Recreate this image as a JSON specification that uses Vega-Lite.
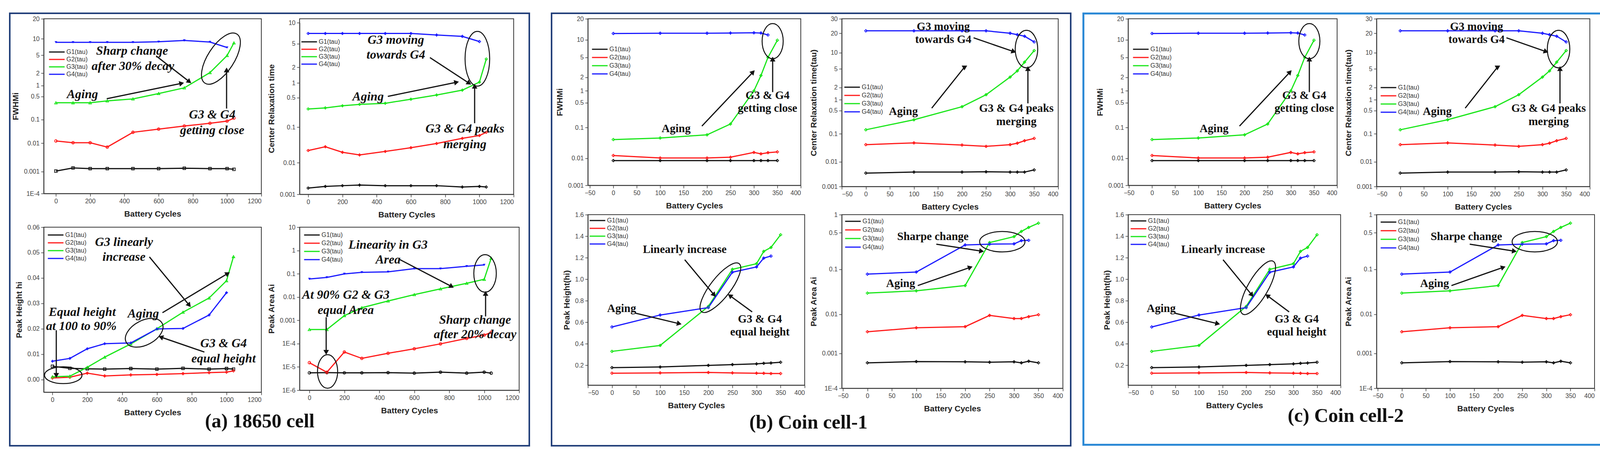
{
  "$schema": "https://vega.github.io/schema/vega-lite/v6.json",
  "background": "white",
  "padding": {"left": 22, "top": 31, "right": 0, "bottom": 0},
  "config": {
    "view": {"stroke": "#3a3a3a", "strokeWidth": 2},
    "font": "Liberation Sans",
    "axis": {"grid": false, "domainColor": "#3a3a3a", "domainWidth": 2, "tickColor": "#3a3a3a", "tickWidth": 1.5, "tickSize": 7,
      "labelFont": "Liberation Sans", "labelFontSize": 16, "labelColor": "#444", "labelPadding": 4,
      "titleFont": "Liberation Sans", "titleFontSize": 21, "titleFontWeight": "bold", "titleColor": "#222"},
    "axisX": {"titlePadding": 14},
    "axisY": {"titlePadding": 10},
    "legend": {"labelFont": "Liberation Sans", "labelFontSize": 16, "labelColor": "#333", "padding": 0, "rowPadding": 4, "clipHeight": 16,
      "symbolType": "stroke", "symbolStrokeWidth": 3, "symbolSize": 1600, "labelOffset": 3}
  },
  "datasets": {
    "blank": [{}],
    "a1": [
      {"series":"G1(tau)","cycle":0,"value":0.00103},{"series":"G1(tau)","cycle":100,"value":0.00133},{"series":"G1(tau)","cycle":200,"value":0.00126},{"series":"G1(tau)","cycle":300,"value":0.00126},{"series":"G1(tau)","cycle":450,"value":0.00126},{"series":"G1(tau)","cycle":600,"value":0.00126},{"series":"G1(tau)","cycle":750,"value":0.0013},{"series":"G1(tau)","cycle":900,"value":0.00126},{"series":"G1(tau)","cycle":1000,"value":0.00126},{"series":"G1(tau)","cycle":1040,"value":0.00119},
      {"series":"G2(tau)","cycle":0,"value":0.0125},{"series":"G2(tau)","cycle":100,"value":0.0105},{"series":"G2(tau)","cycle":200,"value":0.0105},{"series":"G2(tau)","cycle":300,"value":0.0073},{"series":"G2(tau)","cycle":450,"value":0.0288},{"series":"G2(tau)","cycle":600,"value":0.039},{"series":"G2(tau)","cycle":750,"value":0.053},{"series":"G2(tau)","cycle":900,"value":0.069},{"series":"G2(tau)","cycle":1000,"value":0.085},{"series":"G2(tau)","cycle":1040,"value":0.11},
      {"series":"G3(tau)","cycle":0,"value":0.32},{"series":"G3(tau)","cycle":100,"value":0.32},{"series":"G3(tau)","cycle":200,"value":0.32},{"series":"G3(tau)","cycle":300,"value":0.366},{"series":"G3(tau)","cycle":450,"value":0.42},{"series":"G3(tau)","cycle":600,"value":0.6},{"series":"G3(tau)","cycle":750,"value":0.86},{"series":"G3(tau)","cycle":900,"value":2.06},{"series":"G3(tau)","cycle":1000,"value":4.9},{"series":"G3(tau)","cycle":1040,"value":8.4},
      {"series":"G4(tau)","cycle":0,"value":8.6},{"series":"G4(tau)","cycle":100,"value":8.6},{"series":"G4(tau)","cycle":200,"value":8.6},{"series":"G4(tau)","cycle":300,"value":8.6},{"series":"G4(tau)","cycle":450,"value":8.6},{"series":"G4(tau)","cycle":600,"value":8.8},{"series":"G4(tau)","cycle":750,"value":9.3},{"series":"G4(tau)","cycle":900,"value":8.7},{"series":"G4(tau)","cycle":1000,"value":6.9}
    ],
    "a1_txt": [
      {"cycle":445,"value":6.0,"label":"Sharp change"},{"cycle":450,"value":2.89,"label":"after 30% decay"},{"cycle":155,"value":0.576,"label":"Aging"},{"cycle":913,"value":0.141,"label":"G3 & G4"},{"cycle":913,"value":0.0352,"label":"getting close"}
    ],
    "a1_arr": [
      {"cycle":776,"value":1.27,"cycle0":587,"value0":4.76,"heading":128},{"cycle":730,"value":1.12,"cycle0":297,"value0":0.424,"heading":78},{"cycle":997,"value":2.26,"cycle0":997,"value0":0.214,"heading":0}
    ],
    "a2": [
      {"series":"G1(tau)","cycle":0,"value":0.00158},{"series":"G1(tau)","cycle":100,"value":0.00178},{"series":"G1(tau)","cycle":200,"value":0.00188},{"series":"G1(tau)","cycle":300,"value":0.00197},{"series":"G1(tau)","cycle":450,"value":0.00188},{"series":"G1(tau)","cycle":600,"value":0.00188},{"series":"G1(tau)","cycle":750,"value":0.00188},{"series":"G1(tau)","cycle":900,"value":0.00171},{"series":"G1(tau)","cycle":1000,"value":0.00178},{"series":"G1(tau)","cycle":1040,"value":0.00171},
      {"series":"G2(tau)","cycle":0,"value":0.0221},{"series":"G2(tau)","cycle":100,"value":0.0282},{"series":"G2(tau)","cycle":200,"value":0.0197},{"series":"G2(tau)","cycle":300,"value":0.0166},{"series":"G2(tau)","cycle":450,"value":0.0208},{"series":"G2(tau)","cycle":600,"value":0.0265},{"series":"G2(tau)","cycle":750,"value":0.0348},{"series":"G2(tau)","cycle":900,"value":0.0485},{"series":"G2(tau)","cycle":1000,"value":0.0582},{"series":"G2(tau)","cycle":1040,"value":0.0716},
      {"series":"G3(tau)","cycle":0,"value":0.27},{"series":"G3(tau)","cycle":100,"value":0.286},{"series":"G3(tau)","cycle":200,"value":0.321},{"series":"G3(tau)","cycle":300,"value":0.347},{"series":"G3(tau)","cycle":450,"value":0.368},{"series":"G3(tau)","cycle":600,"value":0.46},{"series":"G3(tau)","cycle":750,"value":0.567},{"series":"G3(tau)","cycle":900,"value":0.714},{"series":"G3(tau)","cycle":1000,"value":1.04},{"series":"G3(tau)","cycle":1040,"value":2.76},
      {"series":"G4(tau)","cycle":0,"value":7.0},{"series":"G4(tau)","cycle":100,"value":7.0},{"series":"G4(tau)","cycle":200,"value":7.0},{"series":"G4(tau)","cycle":300,"value":7.0},{"series":"G4(tau)","cycle":450,"value":7.0},{"series":"G4(tau)","cycle":600,"value":7.0},{"series":"G4(tau)","cycle":750,"value":6.65},{"series":"G4(tau)","cycle":900,"value":6.36},{"series":"G4(tau)","cycle":1000,"value":5.36}
    ],
    "a2_txt": [
      {"cycle":512,"value":5.69,"label":"G3 moving"},{"cycle":512,"value":3.25,"label":"towards G4"},{"cycle":350,"value":0.531,"label":"Aging"},{"cycle":915,"value":0.0914,"label":"G3 & G4 peaks"},{"cycle":915,"value":0.0332,"label":"merging"}
    ],
    "a2_arr": [
      {"cycle":936,"value":1.01,"cycle0":711,"value0":2.92,"heading":123},{"cycle":862,"value":1.026,"cycle0":465,"value0":0.531,"heading":78},{"cycle":972,"value":0.831,"cycle0":972,"value0":0.124,"heading":0}
    ],
    "a3": [
      {"series":"G1(tau)","cycle":0,"value":0.0052},{"series":"G1(tau)","cycle":100,"value":0.0044},{"series":"G1(tau)","cycle":200,"value":0.0042},{"series":"G1(tau)","cycle":300,"value":0.0041},{"series":"G1(tau)","cycle":450,"value":0.0043},{"series":"G1(tau)","cycle":600,"value":0.0041},{"series":"G1(tau)","cycle":750,"value":0.0044},{"series":"G1(tau)","cycle":900,"value":0.0041},{"series":"G1(tau)","cycle":1000,"value":0.0043},{"series":"G1(tau)","cycle":1040,"value":0.0041},
      {"series":"G2(tau)","cycle":0,"value":0.0006},{"series":"G2(tau)","cycle":100,"value":0.0009},{"series":"G2(tau)","cycle":200,"value":0.0025},{"series":"G2(tau)","cycle":300,"value":0.0014},{"series":"G2(tau)","cycle":450,"value":0.0018},{"series":"G2(tau)","cycle":600,"value":0.002},{"series":"G2(tau)","cycle":750,"value":0.0023},{"series":"G2(tau)","cycle":900,"value":0.0027},{"series":"G2(tau)","cycle":1000,"value":0.0029},{"series":"G2(tau)","cycle":1040,"value":0.0034},
      {"series":"G3(tau)","cycle":0,"value":0.0011},{"series":"G3(tau)","cycle":100,"value":0.0013},{"series":"G3(tau)","cycle":200,"value":0.0048},{"series":"G3(tau)","cycle":300,"value":0.0088},{"series":"G3(tau)","cycle":450,"value":0.014},{"series":"G3(tau)","cycle":600,"value":0.02},{"series":"G3(tau)","cycle":750,"value":0.0265},{"series":"G3(tau)","cycle":900,"value":0.0321},{"series":"G3(tau)","cycle":1000,"value":0.0389},{"series":"G3(tau)","cycle":1040,"value":0.0484},
      {"series":"G4(tau)","cycle":0,"value":0.0072},{"series":"G4(tau)","cycle":100,"value":0.0083},{"series":"G4(tau)","cycle":200,"value":0.0121},{"series":"G4(tau)","cycle":300,"value":0.0141},{"series":"G4(tau)","cycle":450,"value":0.0144},{"series":"G4(tau)","cycle":600,"value":0.0199},{"series":"G4(tau)","cycle":750,"value":0.0201},{"series":"G4(tau)","cycle":900,"value":0.0254},{"series":"G4(tau)","cycle":1000,"value":0.0342}
    ],
    "a3_txt": [
      {"cycle":411,"value":0.0542,"label":"G3 linearly"},{"cycle":411,"value":0.0483,"label":"increase"},{"cycle":171,"value":0.0266,"label":"Equal height"},{"cycle":166,"value":0.0211,"label":"at 100 to 90%"},{"cycle":522,"value":0.026,"label":"Aging"},{"cycle":983,"value":0.0142,"label":"G3 & G4"},{"cycle":983,"value":0.0082,"label":"equal height"}
    ],
    "a3_arr": [
      {"cycle":22,"value":0.0019,"cycle0":22,"value0":0.0194,"heading":180},{"cycle":783,"value":0.0295,"cycle0":557,"value0":0.0483,"heading":141},{"cycle":1003,"value":0.0416,"cycle0":632,"value0":0.0263,"heading":59},{"cycle":627,"value":0.0166,"cycle0":873,"value0":0.0108,"heading":289}
    ],
    "a4": [
      {"series":"G1(tau)","cycle":0,"value":0.0000056},{"series":"G1(tau)","cycle":100,"value":0.0000057},{"series":"G1(tau)","cycle":200,"value":0.0000056},{"series":"G1(tau)","cycle":300,"value":0.0000056},{"series":"G1(tau)","cycle":450,"value":0.0000057},{"series":"G1(tau)","cycle":600,"value":0.0000054},{"series":"G1(tau)","cycle":750,"value":0.000006},{"series":"G1(tau)","cycle":900,"value":0.0000054},{"series":"G1(tau)","cycle":1000,"value":0.000006},{"series":"G1(tau)","cycle":1040,"value":0.0000054},
      {"series":"G2(tau)","cycle":0,"value":0.0000152},{"series":"G2(tau)","cycle":100,"value":0.0000059},{"series":"G2(tau)","cycle":200,"value":0.0000437},{"series":"G2(tau)","cycle":300,"value":0.0000233},{"series":"G2(tau)","cycle":450,"value":0.0000385},{"series":"G2(tau)","cycle":600,"value":0.00006},{"series":"G2(tau)","cycle":750,"value":0.000098},{"series":"G2(tau)","cycle":900,"value":0.000167},{"series":"G2(tau)","cycle":1000,"value":0.000232},{"series":"G2(tau)","cycle":1040,"value":0.000304},
      {"series":"G3(tau)","cycle":0,"value":0.000403},{"series":"G3(tau)","cycle":100,"value":0.000403},{"series":"G3(tau)","cycle":200,"value":0.00159},{"series":"G3(tau)","cycle":300,"value":0.00349},{"series":"G3(tau)","cycle":450,"value":0.00677},{"series":"G3(tau)","cycle":600,"value":0.0127},{"series":"G3(tau)","cycle":750,"value":0.0225},{"series":"G3(tau)","cycle":900,"value":0.039},{"series":"G3(tau)","cycle":1000,"value":0.0578},{"series":"G3(tau)","cycle":1040,"value":0.462},
      {"series":"G4(tau)","cycle":0,"value":0.0597},{"series":"G4(tau)","cycle":100,"value":0.0698},{"series":"G4(tau)","cycle":200,"value":0.0988},{"series":"G4(tau)","cycle":300,"value":0.1156},{"series":"G4(tau)","cycle":450,"value":0.121},{"series":"G4(tau)","cycle":600,"value":0.166},{"series":"G4(tau)","cycle":750,"value":0.166},{"series":"G4(tau)","cycle":900,"value":0.21},{"series":"G4(tau)","cycle":1000,"value":0.239}
    ],
    "a4_txt": [
      {"cycle":450,"value":1.77,"label":"Linearity in G3"},{"cycle":450,"value":0.408,"label":"Area"},{"cycle":208,"value":0.0123,"label":"At 90% G2 & G3"},{"cycle":208,"value":0.00276,"label":"equal Area"},{"cycle":948,"value":0.00107,"label":"Sharp change"},{"cycle":948,"value":0.000248,"label":"after 20% decay"}
    ],
    "a4_arr": [
      {"cycle":810,"value":0.0294,"cycle0":517,"value0":0.408,"heading":118},{"cycle":96,"value":0.0000458,"cycle0":96,"value0":0.00136,"heading":180},{"cycle":1008,"value":0.0133,"cycle0":1008,"value0":0.00147,"heading":0}
    ],
    "b1": [
      {"series":"G1(tau)","cycle":0,"value":0.0082},{"series":"G1(tau)","cycle":100,"value":0.0082},{"series":"G1(tau)","cycle":200,"value":0.0082},{"series":"G1(tau)","cycle":250,"value":0.0082},{"series":"G1(tau)","cycle":300,"value":0.0082},{"series":"G1(tau)","cycle":315,"value":0.0082},{"series":"G1(tau)","cycle":330,"value":0.0082},{"series":"G1(tau)","cycle":350,"value":0.0082},
      {"series":"G2(tau)","cycle":0,"value":0.0123},{"series":"G2(tau)","cycle":100,"value":0.0102},{"series":"G2(tau)","cycle":200,"value":0.0102},{"series":"G2(tau)","cycle":250,"value":0.0108},{"series":"G2(tau)","cycle":300,"value":0.0155},{"series":"G2(tau)","cycle":315,"value":0.0139},{"series":"G2(tau)","cycle":330,"value":0.0152},{"series":"G2(tau)","cycle":350,"value":0.0161},
      {"series":"G3(tau)","cycle":0,"value":0.0406},{"series":"G3(tau)","cycle":100,"value":0.0457},{"series":"G3(tau)","cycle":200,"value":0.058},{"series":"G3(tau)","cycle":250,"value":0.126},{"series":"G3(tau)","cycle":300,"value":1.0},{"series":"G3(tau)","cycle":315,"value":2.18},{"series":"G3(tau)","cycle":330,"value":5.0},{"series":"G3(tau)","cycle":350,"value":9.8},
      {"series":"G4(tau)","cycle":0,"value":12.3},{"series":"G4(tau)","cycle":100,"value":12.4},{"series":"G4(tau)","cycle":200,"value":12.4},{"series":"G4(tau)","cycle":250,"value":12.5},{"series":"G4(tau)","cycle":300,"value":12.6},{"series":"G4(tau)","cycle":315,"value":12.5},{"series":"G4(tau)","cycle":330,"value":11.7}
    ],
    "b1_txt": [
      {"cycle":134,"value":0.0917,"label":"Aging"},{"cycle":329,"value":0.763,"label":"G3 & G4"},{"cycle":329,"value":0.344,"label":"getting close"}
    ],
    "b1_arr": [
      {"cycle":297,"value":2.49,"cycle0":189,"value0":0.11,"heading":43},{"cycle":340,"value":4.47,"cycle0":340,"value0":0.927,"heading":0}
    ],
    "b2": [
      {"series":"G1(tau)","cycle":0,"value":0.00347},{"series":"G1(tau)","cycle":100,"value":0.00381},{"series":"G1(tau)","cycle":200,"value":0.00381},{"series":"G1(tau)","cycle":250,"value":0.00392},{"series":"G1(tau)","cycle":300,"value":0.00381},{"series":"G1(tau)","cycle":315,"value":0.00381},{"series":"G1(tau)","cycle":330,"value":0.00381},{"series":"G1(tau)","cycle":350,"value":0.00466},
      {"series":"G2(tau)","cycle":0,"value":0.0408},{"series":"G2(tau)","cycle":100,"value":0.0472},{"series":"G2(tau)","cycle":200,"value":0.0394},{"series":"G2(tau)","cycle":250,"value":0.0354},{"series":"G2(tau)","cycle":300,"value":0.0408},{"series":"G2(tau)","cycle":315,"value":0.046},{"series":"G2(tau)","cycle":330,"value":0.0564},{"series":"G2(tau)","cycle":350,"value":0.0683},
      {"series":"G3(tau)","cycle":0,"value":0.132},{"series":"G3(tau)","cycle":100,"value":0.265},{"series":"G3(tau)","cycle":200,"value":0.642},{"series":"G3(tau)","cycle":250,"value":1.33},{"series":"G3(tau)","cycle":300,"value":3.35},{"series":"G3(tau)","cycle":315,"value":4.55},{"series":"G3(tau)","cycle":330,"value":6.69},{"series":"G3(tau)","cycle":350,"value":10.8},
      {"series":"G4(tau)","cycle":0,"value":21.4},{"series":"G4(tau)","cycle":100,"value":21.4},{"series":"G4(tau)","cycle":200,"value":21.4},{"series":"G4(tau)","cycle":250,"value":21.4},{"series":"G4(tau)","cycle":300,"value":20.0},{"series":"G4(tau)","cycle":315,"value":19.0},{"series":"G4(tau)","cycle":330,"value":18.0},{"series":"G4(tau)","cycle":350,"value":14.7}
    ],
    "b2_txt": [
      {"cycle":161,"value":24.2,"label":"G3 moving"},{"cycle":161,"value":16.1,"label":"towards G4"},{"cycle":78,"value":0.475,"label":"Aging"},{"cycle":313,"value":0.585,"label":"G3 & G4 peaks"},{"cycle":313,"value":0.235,"label":"merging"}
    ],
    "b2_arr": [
      {"cycle":306,"value":10.5,"cycle0":224,"value0":17.0,"heading":109},{"cycle":205,"value":5.39,"cycle0":137,"value0":0.585,"heading":60},{"cycle":337,"value":4.9,"cycle0":337,"value0":0.794,"heading":0}
    ],
    "b3": [
      {"series":"G1(tau)","cycle":0,"value":0.178},{"series":"G1(tau)","cycle":100,"value":0.184},{"series":"G1(tau)","cycle":200,"value":0.199},{"series":"G1(tau)","cycle":250,"value":0.206},{"series":"G1(tau)","cycle":300,"value":0.213},{"series":"G1(tau)","cycle":315,"value":0.218},{"series":"G1(tau)","cycle":330,"value":0.221},{"series":"G1(tau)","cycle":350,"value":0.228},
      {"series":"G2(tau)","cycle":0,"value":0.126},{"series":"G2(tau)","cycle":100,"value":0.129},{"series":"G2(tau)","cycle":200,"value":0.133},{"series":"G2(tau)","cycle":250,"value":0.129},{"series":"G2(tau)","cycle":300,"value":0.126},{"series":"G2(tau)","cycle":315,"value":0.125},{"series":"G2(tau)","cycle":330,"value":0.123},{"series":"G2(tau)","cycle":350,"value":0.123},
      {"series":"G3(tau)","cycle":0,"value":0.329},{"series":"G3(tau)","cycle":100,"value":0.384},{"series":"G3(tau)","cycle":200,"value":0.747},{"series":"G3(tau)","cycle":250,"value":1.092},{"series":"G3(tau)","cycle":300,"value":1.144},{"series":"G3(tau)","cycle":315,"value":1.259},{"series":"G3(tau)","cycle":330,"value":1.295},{"series":"G3(tau)","cycle":350,"value":1.413},
      {"series":"G4(tau)","cycle":0,"value":0.556},{"series":"G4(tau)","cycle":100,"value":0.667},{"series":"G4(tau)","cycle":200,"value":0.736},{"series":"G4(tau)","cycle":250,"value":1.065},{"series":"G4(tau)","cycle":300,"value":1.114},{"series":"G4(tau)","cycle":315,"value":1.196},{"series":"G4(tau)","cycle":330,"value":1.215}
    ],
    "b3_txt": [
      {"cycle":151,"value":1.277,"label":"Linearly increase"},{"cycle":20,"value":0.726,"label":"Aging"},{"cycle":307,"value":0.628,"label":"G3 & G4"},{"cycle":307,"value":0.511,"label":"equal height"}
    ],
    "b3_arr": [
      {"cycle":211,"value":0.859,"cycle0":151,"value0":1.181,"heading":140},{"cycle":138,"value":0.588,"cycle0":49,"value0":0.684,"heading":104},{"cycle":246,"value":0.843,"cycle0":291,"value0":0.696,"heading":306}
    ],
    "b4": [
      {"series":"G1(tau)","cycle":0,"value":0.000533},{"series":"G1(tau)","cycle":100,"value":0.00058},{"series":"G1(tau)","cycle":200,"value":0.000571},{"series":"G1(tau)","cycle":250,"value":0.000556},{"series":"G1(tau)","cycle":300,"value":0.000571},{"series":"G1(tau)","cycle":315,"value":0.000533},{"series":"G1(tau)","cycle":330,"value":0.000593},{"series":"G1(tau)","cycle":350,"value":0.000533},
      {"series":"G2(tau)","cycle":0,"value":0.00356},{"series":"G2(tau)","cycle":100,"value":0.0045},{"series":"G2(tau)","cycle":200,"value":0.00481},{"series":"G2(tau)","cycle":250,"value":0.00936},{"series":"G2(tau)","cycle":300,"value":0.00776},{"series":"G2(tau)","cycle":315,"value":0.00776},{"series":"G2(tau)","cycle":330,"value":0.00869},{"series":"G2(tau)","cycle":350,"value":0.00973},
      {"series":"G3(tau)","cycle":0,"value":0.0296},{"series":"G3(tau)","cycle":100,"value":0.0332},{"series":"G3(tau)","cycle":200,"value":0.0435},{"series":"G3(tau)","cycle":250,"value":0.324},{"series":"G3(tau)","cycle":300,"value":0.42},{"series":"G3(tau)","cycle":315,"value":0.525},{"series":"G3(tau)","cycle":330,"value":0.612},{"series":"G3(tau)","cycle":350,"value":0.722},
      {"series":"G4(tau)","cycle":0,"value":0.0783},{"series":"G4(tau)","cycle":100,"value":0.0871},{"series":"G4(tau)","cycle":200,"value":0.292},{"series":"G4(tau)","cycle":250,"value":0.302},{"series":"G4(tau)","cycle":300,"value":0.306},{"series":"G4(tau)","cycle":315,"value":0.352},{"series":"G4(tau)","cycle":330,"value":0.358}
    ],
    "b4_txt": [
      {"cycle":134,"value":0.42,"label":"Sharpe change"},{"cycle":68,"value":0.0483,"label":"Aging"}
    ],
    "b4_arr": [
      {"cycle":232,"value":0.223,"cycle0":141,"value0":0.302,"heading":99},{"cycle":209,"value":0.108,"cycle0":103,"value0":0.0435,"heading":71}
    ]
  },
  "spacing": 0,
  "resolve": {"scale": {"color": "independent"}, "legend": {"color": "independent"}},
  "hconcat": [
    {
      "columns": 7, "spacing": 0, "bounds": "flush", "align": "each",
      "resolve": {"scale": {"color": "independent"}, "legend": {"color": "independent"}},
      "concat": [
        {"width": 4, "height": 4, "data": {"name": "blank"}, "mark": {"type": "point", "opacity": 0}, "view": {"fill": "#23407a", "stroke": null}},
        {"width": 85, "height": 4, "data": {"name": "blank"}, "mark": {"type": "point", "opacity": 0}, "view": {"fill": "#23407a", "stroke": null}},
        {"width": 557, "height": 4, "data": {"name": "blank"}, "mark": {"type": "point", "opacity": 0}, "view": {"fill": "#23407a", "stroke": null}},
        {"width": 98, "height": 4, "data": {"name": "blank"}, "mark": {"type": "point", "opacity": 0}, "view": {"fill": "#23407a", "stroke": null}},
        {"width": 562, "height": 4, "data": {"name": "blank"}, "mark": {"type": "point", "opacity": 0}, "view": {"fill": "#23407a", "stroke": null}},
        {"width": 24, "height": 4, "data": {"name": "blank"}, "mark": {"type": "point", "opacity": 0}, "view": {"fill": "#23407a", "stroke": null}},
        {"width": 4, "height": 4, "data": {"name": "blank"}, "mark": {"type": "point", "opacity": 0}, "view": {"fill": "#23407a", "stroke": null}},

        {"width": 4, "height": 12, "data": {"name": "blank"}, "mark": {"type": "point", "opacity": 0}, "view": {"fill": "#23407a", "stroke": null}},
        {"width": 85, "height": 12, "data": {"name": "blank"}, "mark": {"type": "point", "opacity": 0}, "view": {"stroke": null}},
        {"width": 557, "height": 12, "data": {"name": "blank"}, "mark": {"type": "point", "opacity": 0}, "view": {"stroke": null}},
        {"width": 98, "height": 12, "data": {"name": "blank"}, "mark": {"type": "point", "opacity": 0}, "view": {"stroke": null}},
        {"width": 562, "height": 12, "data": {"name": "blank"}, "mark": {"type": "point", "opacity": 0}, "view": {"stroke": null}},
        {"width": 24, "height": 12, "data": {"name": "blank"}, "mark": {"type": "point", "opacity": 0}, "view": {"stroke": null}},
        {"width": 4, "height": 12, "data": {"name": "blank"}, "mark": {"type": "point", "opacity": 0}, "view": {"fill": "#23407a", "stroke": null}},

        {"width": 4, "height": 449, "data": {"name": "blank"}, "mark": {"type": "point", "opacity": 0}, "view": {"fill": "#23407a", "stroke": null}},
        {"width": 85, "height": 10, "data": {"name": "blank"}, "mark": {"type": "point", "opacity": 0}, "view": {"stroke": null}},
        {
          "width": 557, "height": 447,
          "encoding": {
            "x": {"field": "cycle", "type": "quantitative", "title": "Battery Cycles", "scale": {"domain": [-71, 1200], "nice": false, "zero": false}, "axis": {"values": [0, 200, 400, 600, 800, 1000, 1200], "format": "d"}},
            "y": {"field": "value", "type": "quantitative", "title": "FWHMi", "scale": {"type": "log", "domain": [0.0001, 0.001, 0.01, 0.1, 0.5, 1, 2, 5, 10, 20], "range": [447, 390.5, 318.3, 257.5, 198.5, 170.6, 139.1, 93, 51.1, 0], "nice": false}, "axis": {"values": [0.0001, 0.001, 0.01, 0.1, 0.5, 1, 2, 5, 10, 20], "labelExpr": "datum.value < 0.0005 ? '1E-' + round(-log(datum.value) / LN10) : format(datum.value, '~g')"}}
          },
          "layer": [
            {"data": {"name": "a1"}, "mark": {"type": "line", "strokeWidth": 3}, "encoding": {"color": {"field": "series", "type": "nominal", "scale": {"domain": ["G1(tau)", "G2(tau)", "G3(tau)", "G4(tau)"], "range": ["#111111", "#ff1a1a", "#19e619", "#1a1aff"]}, "legend": {"title": null, "orient": "none", "legendX": 12, "legendY": 77, "rowPadding": 3, "symbolType": "stroke"}}}},
            {"data": {"name": "a1"}, "transform": [{"filter": "datum.series == 'G1(tau)'"}], "mark": {"type": "point", "shape": "square", "filled": false, "size": 45, "strokeWidth": 1.8, "opacity": 1}, "encoding": {"color": {"field": "series", "type": "nominal"}}},
            {"data": {"name": "a1"}, "transform": [{"filter": "datum.series == 'G2(tau)'"}], "mark": {"type": "point", "shape": "circle", "filled": false, "size": 45, "strokeWidth": 1.8, "opacity": 1}, "encoding": {"color": {"field": "series", "type": "nominal"}}},
            {"data": {"name": "a1"}, "transform": [{"filter": "datum.series == 'G3(tau)'"}], "mark": {"type": "point", "shape": "triangle-up", "filled": false, "size": 45, "strokeWidth": 1.8, "opacity": 1}, "encoding": {"color": {"field": "series", "type": "nominal"}}},
            {"data": {"name": "a1"}, "transform": [{"filter": "datum.series == 'G4(tau)'"}], "mark": {"type": "point", "shape": "triangle-down", "filled": true, "size": 45, "opacity": 1}, "encoding": {"color": {"field": "series", "type": "nominal"}}},
            {"data": {"name": "a1_txt"}, "mark": {"type": "text", "font": "Liberation Serif", "fontSize": 32, "fontWeight": "bold", "fontStyle": "italic", "color": "#111"}, "encoding": {"text": {"field": "label", "type": "nominal"}}},
            {"data": {"name": "a1_arr"}, "mark": {"type": "rule", "strokeWidth": 3, "color": "#111"}, "encoding": {"x2": {"field": "cycle0"}, "y2": {"field": "value0"}}},
            {"data": {"name": "a1_arr"}, "mark": {"type": "point", "shape": "triangle", "filled": true, "size": 200, "color": "#111", "opacity": 1}, "encoding": {"angle": {"field": "heading", "type": "quantitative", "scale": null}}},
            {"data": {"values": [{"cycle": 964, "value": 4.19}]}, "mark": {"type": "point", "shape": "M0,-1C0.25,-1,0.45,-0.55,0.45,0C0.45,0.55,0.25,1,0,1C-0.25,1,-0.45,0.55,-0.45,0C-0.45,-0.55,-0.25,-1,0,-1Z", "size": 22500, "angle": 33, "filled": false, "strokeWidth": 2.5, "color": "#111", "opacity": 1}}
          ]
        },
        {"width": 98, "height": 10, "data": {"name": "blank"}, "mark": {"type": "point", "opacity": 0}, "view": {"stroke": null}},
        {
          "width": 548, "height": 449,
          "encoding": {
            "x": {"field": "cycle", "type": "quantitative", "title": "Battery Cycles", "scale": {"domain": [-50, 1200], "nice": false, "zero": false}, "axis": {"values": [0, 200, 400, 600, 800, 1000, 1200], "format": "d"}},
            "y": {"field": "value", "type": "quantitative", "title": "Center Relaxation time", "scale": {"type": "log", "domain": [0.001, 0.01, 0.1, 0.5, 1, 2, 5, 10], "range": [449, 368.3, 277.2, 201.8, 164.3, 124.3, 63.6, 10], "nice": false}, "axis": {"values": [0.001, 0.01, 0.1, 0.5, 1, 2, 5, 10], "labelExpr": "datum.value < 0.0005 ? '1E-' + round(-log(datum.value) / LN10) : format(datum.value, '~g')"}}
          },
          "layer": [
            {"data": {"name": "a2"}, "mark": {"type": "line", "strokeWidth": 3}, "encoding": {"color": {"field": "series", "type": "nominal", "scale": {"domain": ["G1(tau)", "G2(tau)", "G3(tau)", "G4(tau)"], "range": ["#111111", "#ff1a1a", "#19e619", "#1a1aff"]}, "legend": {"title": null, "orient": "none", "legendX": 3, "legendY": 51, "rowPadding": 3, "symbolType": "stroke"}}}},
            {"data": {"name": "a2"}, "mark": {"type": "point", "shape": "diamond", "filled": false, "size": 40, "strokeWidth": 1.8, "opacity": 1}, "encoding": {"color": {"field": "series", "type": "nominal"}}},
            {"data": {"name": "a2_txt"}, "mark": {"type": "text", "font": "Liberation Serif", "fontSize": 32, "fontWeight": "bold", "fontStyle": "italic", "color": "#111"}, "encoding": {"text": {"field": "label", "type": "nominal"}}},
            {"data": {"name": "a2_arr"}, "mark": {"type": "rule", "strokeWidth": 3, "color": "#111"}, "encoding": {"x2": {"field": "cycle0"}, "y2": {"field": "value0"}}},
            {"data": {"name": "a2_arr"}, "mark": {"type": "point", "shape": "triangle", "filled": true, "size": 200, "color": "#111", "opacity": 1}, "encoding": {"angle": {"field": "heading", "type": "quantitative", "scale": null}}},
            {"data": {"values": [{"cycle": 988, "value": 2.79}]}, "mark": {"type": "point", "shape": "M0,-1C0.25,-1,0.45,-0.55,0.45,0C0.45,0.55,0.25,1,0,1C-0.25,1,-0.45,0.55,-0.45,0C-0.45,-0.55,-0.25,-1,0,-1Z", "size": 19600, "angle": 0, "filled": false, "strokeWidth": 2.5, "color": "#111", "opacity": 1}}
          ]
        },
        {"width": 24, "height": 10, "data": {"name": "blank"}, "mark": {"type": "point", "opacity": 0}, "view": {"stroke": null}},
        {"width": 4, "height": 449, "data": {"name": "blank"}, "mark": {"type": "point", "opacity": 0}, "view": {"fill": "#23407a", "stroke": null}},

        {"width": 4, "height": 84, "data": {"name": "blank"}, "mark": {"type": "point", "opacity": 0}, "view": {"fill": "#23407a", "stroke": null}},
        {"width": 85, "height": 84, "data": {"name": "blank"}, "mark": {"type": "point", "opacity": 0}, "view": {"stroke": null}},
        {"width": 557, "height": 84, "data": {"name": "blank"}, "mark": {"type": "point", "opacity": 0}, "view": {"stroke": null}},
        {"width": 98, "height": 84, "data": {"name": "blank"}, "mark": {"type": "point", "opacity": 0}, "view": {"stroke": null}},
        {"width": 562, "height": 84, "data": {"name": "blank"}, "mark": {"type": "point", "opacity": 0}, "view": {"stroke": null}},
        {"width": 24, "height": 84, "data": {"name": "blank"}, "mark": {"type": "point", "opacity": 0}, "view": {"stroke": null}},
        {"width": 4, "height": 84, "data": {"name": "blank"}, "mark": {"type": "point", "opacity": 0}, "view": {"fill": "#23407a", "stroke": null}},

        {"width": 4, "height": 422, "data": {"name": "blank"}, "mark": {"type": "point", "opacity": 0}, "view": {"fill": "#23407a", "stroke": null}},
        {"width": 85, "height": 10, "data": {"name": "blank"}, "mark": {"type": "point", "opacity": 0}, "view": {"stroke": null}},
        {
          "width": 557, "height": 422,
          "encoding": {
            "x": {"field": "cycle", "type": "quantitative", "title": "Battery Cycles", "scale": {"domain": [-50, 1200], "nice": false, "zero": false}, "axis": {"values": [0, 200, 400, 600, 800, 1000, 1200], "format": "d"}},
            "y": {"field": "value", "type": "quantitative", "title": "Peak Height hi", "scale": {"domain": [-0.005, 0.06], "nice": false, "zero": false}, "axis": {"values": [0, 0.01, 0.02, 0.03, 0.04, 0.05, 0.06], "format": ".2f"}}
          },
          "layer": [
            {"data": {"name": "a3"}, "mark": {"type": "line", "strokeWidth": 3}, "encoding": {"color": {"field": "series", "type": "nominal", "scale": {"domain": ["G1(tau)", "G2(tau)", "G3(tau)", "G4(tau)"], "range": ["#111111", "#ff1a1a", "#19e619", "#1a1aff"]}, "legend": {"title": null, "orient": "none", "legendX": 9, "legendY": 12, "rowPadding": 4, "symbolType": "stroke"}}}},
            {"data": {"name": "a3"}, "transform": [{"filter": "datum.series == 'G1(tau)'"}], "mark": {"type": "point", "shape": "square", "filled": false, "size": 45, "strokeWidth": 1.8, "opacity": 1}, "encoding": {"color": {"field": "series", "type": "nominal"}}},
            {"data": {"name": "a3"}, "transform": [{"filter": "datum.series == 'G2(tau)'"}], "mark": {"type": "point", "shape": "diamond", "filled": false, "size": 45, "strokeWidth": 1.8, "opacity": 1}, "encoding": {"color": {"field": "series", "type": "nominal"}}},
            {"data": {"name": "a3"}, "transform": [{"filter": "datum.series == 'G3(tau)'"}], "mark": {"type": "point", "shape": "triangle-up", "filled": false, "size": 45, "strokeWidth": 1.8, "opacity": 1}, "encoding": {"color": {"field": "series", "type": "nominal"}}},
            {"data": {"name": "a3"}, "transform": [{"filter": "datum.series == 'G4(tau)'"}], "mark": {"type": "point", "shape": "cross", "filled": true, "size": 50, "opacity": 1}, "encoding": {"color": {"field": "series", "type": "nominal"}}},
            {"data": {"name": "a3_txt"}, "mark": {"type": "text", "font": "Liberation Serif", "fontSize": 32, "fontWeight": "bold", "fontStyle": "italic", "color": "#111"}, "encoding": {"text": {"field": "label", "type": "nominal"}}},
            {"data": {"name": "a3_arr"}, "mark": {"type": "rule", "strokeWidth": 3, "color": "#111"}, "encoding": {"x2": {"field": "cycle0"}, "y2": {"field": "value0"}}},
            {"data": {"name": "a3_arr"}, "mark": {"type": "point", "shape": "triangle", "filled": true, "size": 200, "color": "#111", "opacity": 1}, "encoding": {"angle": {"field": "heading", "type": "quantitative", "scale": null}}},
            {"data": {"values": [{"cycle": 62, "value": 0.0017}]}, "mark": {"type": "point", "shape": "M0,-1C0.25,-1,0.45,-0.55,0.45,0C0.45,0.55,0.25,1,0,1C-0.25,1,-0.45,0.55,-0.45,0C-0.45,-0.55,-0.25,-1,0,-1Z", "size": 9216, "angle": 90, "filled": false, "strokeWidth": 2.5, "color": "#111", "opacity": 1}},
            {"data": {"values": [{"cycle": 527, "value": 0.0184}]}, "mark": {"type": "point", "shape": "M0,-1C0.33,-1,0.6,-0.55,0.6,0C0.6,0.55,0.33,1,0,1C-0.33,1,-0.6,0.55,-0.6,0C-0.6,-0.55,-0.33,-1,0,-1Z", "size": 10816, "angle": 62, "filled": false, "strokeWidth": 2.5, "color": "#111", "opacity": 1}}
          ]
        },
        {"width": 98, "height": 10, "data": {"name": "blank"}, "mark": {"type": "point", "opacity": 0}, "view": {"stroke": null}},
        {
          "width": 562, "height": 417,
          "encoding": {
            "x": {"field": "cycle", "type": "quantitative", "title": "Battery Cycles", "scale": {"domain": [-56, 1200], "nice": false, "zero": false}, "axis": {"values": [0, 200, 400, 600, 800, 1000, 1200], "format": "d"}},
            "y": {"field": "value", "type": "quantitative", "title": "Peak Area Ai", "scale": {"type": "log", "domain": [0.000001, 10], "nice": false}, "axis": {"values": [0.000001, 0.00001, 0.0001, 0.001, 0.01, 0.1, 1, 10], "labelExpr": "datum.value < 0.0005 ? '1E-' + round(-log(datum.value) / LN10) : format(datum.value, '~g')"}}
          },
          "layer": [
            {"data": {"name": "a4"}, "mark": {"type": "line", "strokeWidth": 3}, "encoding": {"color": {"field": "series", "type": "nominal", "scale": {"domain": ["G1(tau)", "G2(tau)", "G3(tau)", "G4(tau)"], "range": ["#111111", "#ff1a1a", "#19e619", "#1a1aff"]}, "legend": {"title": null, "orient": "none", "legendX": 10, "legendY": 12, "rowPadding": 5, "symbolType": "stroke"}}}},
            {"data": {"name": "a4"}, "transform": [{"filter": "datum.series == 'G1(tau)' || datum.series == 'G2(tau)'"}], "mark": {"type": "point", "shape": "circle", "filled": false, "size": 45, "strokeWidth": 1.8, "opacity": 1}, "encoding": {"color": {"field": "series", "type": "nominal"}}},
            {"data": {"name": "a4"}, "transform": [{"filter": "datum.series == 'G3(tau)'"}], "mark": {"type": "point", "shape": "triangle-up", "filled": false, "size": 45, "strokeWidth": 1.8, "opacity": 1}, "encoding": {"color": {"field": "series", "type": "nominal"}}},
            {"data": {"name": "a4"}, "transform": [{"filter": "datum.series == 'G4(tau)'"}], "mark": {"type": "point", "shape": "triangle-down", "filled": true, "size": 45, "opacity": 1}, "encoding": {"color": {"field": "series", "type": "nominal"}}},
            {"data": {"name": "a4_txt"}, "mark": {"type": "text", "font": "Liberation Serif", "fontSize": 32, "fontWeight": "bold", "fontStyle": "italic", "color": "#111"}, "encoding": {"text": {"field": "label", "type": "nominal"}}},
            {"data": {"name": "a4_arr"}, "mark": {"type": "rule", "strokeWidth": 3, "color": "#111"}, "encoding": {"x2": {"field": "cycle0"}, "y2": {"field": "value0"}}},
            {"data": {"name": "a4_arr"}, "mark": {"type": "point", "shape": "triangle", "filled": true, "size": 200, "color": "#111", "opacity": 1}, "encoding": {"angle": {"field": "heading", "type": "quantitative", "scale": null}}},
            {"data": {"values": [{"cycle": 104, "value": 0.0000064}]}, "mark": {"type": "point", "shape": "M0,-1C0.33,-1,0.6,-0.55,0.6,0C0.6,0.55,0.33,1,0,1C-0.33,1,-0.6,0.55,-0.6,0C-0.6,-0.55,-0.33,-1,0,-1Z", "size": 7396, "angle": 0, "filled": false, "strokeWidth": 2.5, "color": "#111", "opacity": 1}},
            {"data": {"values": [{"cycle": 1005, "value": 0.1035}]}, "mark": {"type": "point", "shape": "M0,-1C0.33,-1,0.6,-0.55,0.6,0C0.6,0.55,0.33,1,0,1C-0.33,1,-0.6,0.55,-0.6,0C-0.6,-0.55,-0.33,-1,0,-1Z", "size": 9216, "angle": 0, "filled": false, "strokeWidth": 2.5, "color": "#111", "opacity": 1}}
          ]
        },
        {"width": 24, "height": 10, "data": {"name": "blank"}, "mark": {"type": "point", "opacity": 0}, "view": {"stroke": null}},
        {"width": 4, "height": 422, "data": {"name": "blank"}, "mark": {"type": "point", "opacity": 0}, "view": {"fill": "#23407a", "stroke": null}},

        {"width": 4, "height": 135, "data": {"name": "blank"}, "mark": {"type": "point", "opacity": 0}, "view": {"fill": "#23407a", "stroke": null}},
        {"width": 85, "height": 135, "data": {"name": "blank"}, "mark": {"type": "point", "opacity": 0}, "view": {"stroke": null}},
        {"width": 557, "height": 135, "data": {"name": "blank"}, "mark": {"type": "point", "opacity": 0}, "view": {"stroke": null}},
        {"width": 98, "height": 135, "data": {"values": [{"label": "(a) 18650 cell"}]}, "mark": {"type": "text", "font": "Liberation Serif", "fontSize": 50, "fontWeight": "bold", "color": "#111", "dx": -53, "dy": 7}, "encoding": {"text": {"field": "label", "type": "nominal"}}, "view": {"stroke": null}},
        {"width": 562, "height": 135, "data": {"name": "blank"}, "mark": {"type": "point", "opacity": 0}, "view": {"stroke": null}},
        {"width": 24, "height": 135, "data": {"name": "blank"}, "mark": {"type": "point", "opacity": 0}, "view": {"stroke": null}},
        {"width": 4, "height": 135, "data": {"name": "blank"}, "mark": {"type": "point", "opacity": 0}, "view": {"fill": "#23407a", "stroke": null}},

        {"width": 4, "height": 4, "data": {"name": "blank"}, "mark": {"type": "point", "opacity": 0}, "view": {"fill": "#23407a", "stroke": null}},
        {"width": 85, "height": 4, "data": {"name": "blank"}, "mark": {"type": "point", "opacity": 0}, "view": {"fill": "#23407a", "stroke": null}},
        {"width": 557, "height": 4, "data": {"name": "blank"}, "mark": {"type": "point", "opacity": 0}, "view": {"fill": "#23407a", "stroke": null}},
        {"width": 98, "height": 4, "data": {"name": "blank"}, "mark": {"type": "point", "opacity": 0}, "view": {"fill": "#23407a", "stroke": null}},
        {"width": 562, "height": 4, "data": {"name": "blank"}, "mark": {"type": "point", "opacity": 0}, "view": {"fill": "#23407a", "stroke": null}},
        {"width": 24, "height": 4, "data": {"name": "blank"}, "mark": {"type": "point", "opacity": 0}, "view": {"fill": "#23407a", "stroke": null}},
        {"width": 4, "height": 4, "data": {"name": "blank"}, "mark": {"type": "point", "opacity": 0}, "view": {"fill": "#23407a", "stroke": null}}
      ]
    },
    {"width": 51, "height": 10, "data": {"name": "blank"}, "mark": {"type": "point", "opacity": 0}, "view": {"stroke": null}},
    {
      "columns": 7, "spacing": 0, "bounds": "flush", "align": "each",
      "resolve": {"scale": {"color": "independent"}, "legend": {"color": "independent"}},
      "concat": [
        {"width": 4, "height": 4, "data": {"name": "blank"}, "mark": {"type": "point", "opacity": 0}, "view": {"fill": "#23407a", "stroke": null}},
        {"width": 91, "height": 4, "data": {"name": "blank"}, "mark": {"type": "point", "opacity": 0}, "view": {"fill": "#23407a", "stroke": null}},
        {"width": 555, "height": 4, "data": {"name": "blank"}, "mark": {"type": "point", "opacity": 0}, "view": {"fill": "#23407a", "stroke": null}},
        {"width": 95, "height": 4, "data": {"name": "blank"}, "mark": {"type": "point", "opacity": 0}, "view": {"fill": "#23407a", "stroke": null}},
        {"width": 566, "height": 4, "data": {"name": "blank"}, "mark": {"type": "point", "opacity": 0}, "view": {"fill": "#23407a", "stroke": null}},
        {"width": 18, "height": 4, "data": {"name": "blank"}, "mark": {"type": "point", "opacity": 0}, "view": {"fill": "#23407a", "stroke": null}},
        {"width": 4, "height": 4, "data": {"name": "blank"}, "mark": {"type": "point", "opacity": 0}, "view": {"fill": "#23407a", "stroke": null}},

        {"width": 4, "height": 12, "data": {"name": "blank"}, "mark": {"type": "point", "opacity": 0}, "view": {"fill": "#23407a", "stroke": null}},
        {"width": 91, "height": 12, "data": {"name": "blank"}, "mark": {"type": "point", "opacity": 0}, "view": {"stroke": null}},
        {"width": 555, "height": 12, "data": {"name": "blank"}, "mark": {"type": "point", "opacity": 0}, "view": {"stroke": null}},
        {"width": 95, "height": 12, "data": {"name": "blank"}, "mark": {"type": "point", "opacity": 0}, "view": {"stroke": null}},
        {"width": 566, "height": 12, "data": {"name": "blank"}, "mark": {"type": "point", "opacity": 0}, "view": {"stroke": null}},
        {"width": 18, "height": 12, "data": {"name": "blank"}, "mark": {"type": "point", "opacity": 0}, "view": {"stroke": null}},
        {"width": 4, "height": 12, "data": {"name": "blank"}, "mark": {"type": "point", "opacity": 0}, "view": {"fill": "#23407a", "stroke": null}},

        {"width": 4, "height": 429, "data": {"name": "blank"}, "mark": {"type": "point", "opacity": 0}, "view": {"fill": "#23407a", "stroke": null}},
        {"width": 91, "height": 10, "data": {"name": "blank"}, "mark": {"type": "point", "opacity": 0}, "view": {"stroke": null}},
        {
          "width": 545, "height": 426,
          "encoding": {
            "x": {"field": "cycle", "type": "quantitative", "title": "Battery Cycles", "scale": {"domain": [-54.2, 400], "nice": false, "zero": false}, "axis": {"values": [-50, 0, 50, 100, 150, 200, 250, 300, 350, 400], "format": "d"}},
            "y": {"field": "value", "type": "quantitative", "title": "FWHMi", "scale": {"type": "log", "domain": [0.001, 0.01, 0.1, 0.5, 1, 2, 5, 10, 20], "range": [426, 356.7, 278.2, 214.6, 184.3, 149.9, 98.8, 53.65, 0], "nice": false}, "axis": {"values": [0.001, 0.01, 0.1, 0.5, 1, 2, 5, 10, 20], "labelExpr": "datum.value < 0.0005 ? '1E-' + round(-log(datum.value) / LN10) : format(datum.value, '~g')"}}
          },
          "layer": [
            {"data": {"name": "b1"}, "mark": {"type": "line", "strokeWidth": 3}, "encoding": {"color": {"field": "series", "type": "nominal", "scale": {"domain": ["G1(tau)", "G2(tau)", "G3(tau)", "G4(tau)"], "range": ["#111111", "#ff1a1a", "#19e619", "#1a1aff"]}, "legend": {"title": null, "orient": "none", "legendX": 9, "legendY": 70, "rowPadding": 5, "symbolType": "stroke"}}}},
            {"data": {"name": "b1"}, "mark": {"type": "point", "shape": "diamond", "filled": false, "size": 45, "strokeWidth": 1.8, "opacity": 1}, "encoding": {"color": {"field": "series", "type": "nominal"}}},
            {"data": {"name": "b1_txt"}, "mark": {"type": "text", "font": "Liberation Serif", "fontSize": 29, "fontWeight": "bold", "color": "#111"}, "encoding": {"text": {"field": "label", "type": "nominal"}}},
            {"data": {"name": "b1_arr"}, "mark": {"type": "rule", "strokeWidth": 3, "color": "#111"}, "encoding": {"x2": {"field": "cycle0"}, "y2": {"field": "value0"}}},
            {"data": {"name": "b1_arr"}, "mark": {"type": "point", "shape": "triangle", "filled": true, "size": 200, "color": "#111", "opacity": 1}, "encoding": {"angle": {"field": "heading", "type": "quantitative", "scale": null}}},
            {"data": {"values": [{"cycle": 340, "value": 9.45}]}, "mark": {"type": "point", "shape": "M0,-1C0.33,-1,0.6,-0.55,0.6,0C0.6,0.55,0.33,1,0,1C-0.33,1,-0.6,0.55,-0.6,0C-0.6,-0.55,-0.33,-1,0,-1Z", "size": 8100, "angle": 0, "filled": false, "strokeWidth": 2.5, "color": "#111", "opacity": 1}}
          ]
        },
        {"width": 95, "height": 10, "data": {"name": "blank"}, "mark": {"type": "point", "opacity": 0}, "view": {"stroke": null}},
        {
          "width": 554, "height": 429,
          "encoding": {
            "x": {"field": "cycle", "type": "quantitative", "title": "Battery Cycles", "scale": {"domain": [-50, 400], "nice": false, "zero": false}, "axis": {"values": [-50, 0, 50, 100, 150, 200, 250, 300, 350, 400], "format": "d"}},
            "y": {"field": "value", "type": "quantitative", "title": "Center Relaxation time(tau)", "scale": {"type": "log", "domain": [0.001, 0.01, 0.1, 0.5, 1, 2, 5, 10, 20, 30], "range": [429, 365.5, 294.1, 234.9, 207.2, 175.7, 128.4, 86.9, 37, 0], "nice": false}, "axis": {"values": [0.001, 0.01, 0.1, 0.5, 1, 2, 5, 10, 20, 30], "labelExpr": "datum.value < 0.0005 ? '1E-' + round(-log(datum.value) / LN10) : format(datum.value, '~g')"}}
          },
          "layer": [
            {"data": {"name": "b2"}, "mark": {"type": "line", "strokeWidth": 3}, "encoding": {"color": {"field": "series", "type": "nominal", "scale": {"domain": ["G1(tau)", "G2(tau)", "G3(tau)", "G4(tau)"], "range": ["#111111", "#ff1a1a", "#19e619", "#1a1aff"]}, "legend": {"title": null, "orient": "none", "legendX": 5, "legendY": 167, "rowPadding": 5, "symbolType": "stroke"}}}},
            {"data": {"name": "b2"}, "mark": {"type": "point", "shape": "diamond", "filled": false, "size": 45, "strokeWidth": 1.8, "opacity": 1}, "encoding": {"color": {"field": "series", "type": "nominal"}}},
            {"data": {"name": "b2_txt"}, "mark": {"type": "text", "font": "Liberation Serif", "fontSize": 29, "fontWeight": "bold", "color": "#111"}, "encoding": {"text": {"field": "label", "type": "nominal"}}},
            {"data": {"name": "b2_arr"}, "mark": {"type": "rule", "strokeWidth": 3, "color": "#111"}, "encoding": {"x2": {"field": "cycle0"}, "y2": {"field": "value0"}}},
            {"data": {"name": "b2_arr"}, "mark": {"type": "point", "shape": "triangle", "filled": true, "size": 200, "color": "#111", "opacity": 1}, "encoding": {"angle": {"field": "heading", "type": "quantitative", "scale": null}}},
            {"data": {"values": [{"cycle": 334, "value": 11.4}]}, "mark": {"type": "point", "shape": "M0,-1C0.33,-1,0.6,-0.55,0.6,0C0.6,0.55,0.33,1,0,1C-0.33,1,-0.6,0.55,-0.6,0C-0.6,-0.55,-0.33,-1,0,-1Z", "size": 9216, "angle": 0, "filled": false, "strokeWidth": 2.5, "color": "#111", "opacity": 1}}
          ]
        },
        {"width": 18, "height": 10, "data": {"name": "blank"}, "mark": {"type": "point", "opacity": 0}, "view": {"stroke": null}},
        {"width": 4, "height": 429, "data": {"name": "blank"}, "mark": {"type": "point", "opacity": 0}, "view": {"fill": "#23407a", "stroke": null}},

        {"width": 4, "height": 72, "data": {"name": "blank"}, "mark": {"type": "point", "opacity": 0}, "view": {"fill": "#23407a", "stroke": null}},
        {"width": 91, "height": 72, "data": {"name": "blank"}, "mark": {"type": "point", "opacity": 0}, "view": {"stroke": null}},
        {"width": 555, "height": 72, "data": {"name": "blank"}, "mark": {"type": "point", "opacity": 0}, "view": {"stroke": null}},
        {"width": 95, "height": 72, "data": {"name": "blank"}, "mark": {"type": "point", "opacity": 0}, "view": {"stroke": null}},
        {"width": 566, "height": 72, "data": {"name": "blank"}, "mark": {"type": "point", "opacity": 0}, "view": {"stroke": null}},
        {"width": 18, "height": 72, "data": {"name": "blank"}, "mark": {"type": "point", "opacity": 0}, "view": {"stroke": null}},
        {"width": 4, "height": 72, "data": {"name": "blank"}, "mark": {"type": "point", "opacity": 0}, "view": {"fill": "#23407a", "stroke": null}},

        {"width": 4, "height": 444, "data": {"name": "blank"}, "mark": {"type": "point", "opacity": 0}, "view": {"fill": "#23407a", "stroke": null}},
        {"width": 91, "height": 10, "data": {"name": "blank"}, "mark": {"type": "point", "opacity": 0}, "view": {"stroke": null}},
        {
          "width": 555, "height": 436,
          "encoding": {
            "x": {"field": "cycle", "type": "quantitative", "title": "Battery Cycles", "scale": {"domain": [-50, 400], "nice": false, "zero": false}, "axis": {"values": [-50, 0, 50, 100, 150, 200, 250, 300, 350, 400], "format": "d"}},
            "y": {"field": "value", "type": "quantitative", "title": "Peak Height(hi)", "scale": {"domain": [0.015, 1.6], "nice": false, "zero": false}, "axis": {"values": [0.2, 0.4, 0.6, 0.8, 1.0, 1.2, 1.4, 1.6], "format": ".1f"}}
          },
          "layer": [
            {"data": {"name": "b3"}, "mark": {"type": "line", "strokeWidth": 3}, "encoding": {"color": {"field": "series", "type": "nominal", "scale": {"domain": ["G1(tau)", "G2(tau)", "G3(tau)", "G4(tau)"], "range": ["#111111", "#ff1a1a", "#19e619", "#1a1aff"]}, "legend": {"title": null, "orient": "none", "legendX": 3, "legendY": 7, "rowPadding": 4, "symbolType": "stroke"}}}},
            {"data": {"name": "b3"}, "mark": {"type": "point", "shape": "diamond", "filled": false, "size": 45, "strokeWidth": 1.8, "opacity": 1}, "encoding": {"color": {"field": "series", "type": "nominal"}}},
            {"data": {"name": "b3_txt"}, "mark": {"type": "text", "font": "Liberation Serif", "fontSize": 29, "fontWeight": "bold", "color": "#111"}, "encoding": {"text": {"field": "label", "type": "nominal"}}},
            {"data": {"name": "b3_arr"}, "mark": {"type": "rule", "strokeWidth": 3, "color": "#111"}, "encoding": {"x2": {"field": "cycle0"}, "y2": {"field": "value0"}}},
            {"data": {"name": "b3_arr"}, "mark": {"type": "point", "shape": "triangle", "filled": true, "size": 200, "color": "#111", "opacity": 1}, "encoding": {"angle": {"field": "heading", "type": "quantitative", "scale": null}}},
            {"data": {"values": [{"cycle": 225, "value": 0.921}]}, "mark": {"type": "point", "shape": "M0,-1C0.18,-1,0.33,-0.55,0.33,0C0.33,0.55,0.18,1,0,1C-0.18,1,-0.33,0.55,-0.33,0C-0.33,-0.55,-0.18,-1,0,-1Z", "size": 24336, "angle": 38, "filled": false, "strokeWidth": 2.5, "color": "#111", "opacity": 1}}
          ]
        },
        {"width": 95, "height": 10, "data": {"name": "blank"}, "mark": {"type": "point", "opacity": 0}, "view": {"stroke": null}},
        {
          "width": 566, "height": 444,
          "encoding": {
            "x": {"field": "cycle", "type": "quantitative", "title": "Battery Cycles", "scale": {"domain": [-52.4, 400], "nice": false, "zero": false}, "axis": {"values": [-50, 0, 50, 100, 150, 200, 250, 300, 350, 400], "format": "d"}},
            "y": {"field": "value", "type": "quantitative", "title": "Peak Area Ai", "scale": {"type": "log", "domain": [0.0001, 0.001, 0.01, 0.1, 0.5, 1], "range": [444, 354.5, 254.7, 139.8, 46.05, 0], "nice": false}, "axis": {"values": [0.0001, 0.001, 0.01, 0.1, 0.5, 1], "labelExpr": "datum.value < 0.0005 ? '1E-' + round(-log(datum.value) / LN10) : format(datum.value, '~g')"}}
          },
          "layer": [
            {"data": {"name": "b4"}, "mark": {"type": "line", "strokeWidth": 3}, "encoding": {"color": {"field": "series", "type": "nominal", "scale": {"domain": ["G1(tau)", "G2(tau)", "G3(tau)", "G4(tau)"], "range": ["#111111", "#ff1a1a", "#19e619", "#1a1aff"]}, "legend": {"title": null, "orient": "none", "legendX": 7, "legendY": 9, "rowPadding": 6, "symbolType": "stroke"}}}},
            {"data": {"name": "b4"}, "mark": {"type": "point", "shape": "diamond", "filled": false, "size": 45, "strokeWidth": 1.8, "opacity": 1}, "encoding": {"color": {"field": "series", "type": "nominal"}}},
            {"data": {"name": "b4_txt"}, "mark": {"type": "text", "font": "Liberation Serif", "fontSize": 29, "fontWeight": "bold", "color": "#111"}, "encoding": {"text": {"field": "label", "type": "nominal"}}},
            {"data": {"name": "b4_arr"}, "mark": {"type": "rule", "strokeWidth": 3, "color": "#111"}, "encoding": {"x2": {"field": "cycle0"}, "y2": {"field": "value0"}}},
            {"data": {"name": "b4_arr"}, "mark": {"type": "point", "shape": "triangle", "filled": true, "size": 200, "color": "#111", "opacity": 1}, "encoding": {"angle": {"field": "heading", "type": "quantitative", "scale": null}}},
            {"data": {"values": [{"cycle": 276, "value": 0.336}]}, "mark": {"type": "point", "shape": "M0,-1C0.25,-1,0.45,-0.55,0.45,0C0.45,0.55,0.25,1,0,1C-0.25,1,-0.45,0.55,-0.45,0C-0.45,-0.55,-0.25,-1,0,-1Z", "size": 13456, "angle": 90, "filled": false, "strokeWidth": 2.5, "color": "#111", "opacity": 1}}
          ]
        },
        {"width": 18, "height": 10, "data": {"name": "blank"}, "mark": {"type": "point", "opacity": 0}, "view": {"stroke": null}},
        {"width": 4, "height": 444, "data": {"name": "blank"}, "mark": {"type": "point", "opacity": 0}, "view": {"fill": "#23407a", "stroke": null}},

        {"width": 4, "height": 145, "data": {"name": "blank"}, "mark": {"type": "point", "opacity": 0}, "view": {"fill": "#23407a", "stroke": null}},
        {"width": 91, "height": 145, "data": {"name": "blank"}, "mark": {"type": "point", "opacity": 0}, "view": {"stroke": null}},
        {"width": 555, "height": 145, "data": {"name": "blank"}, "mark": {"type": "point", "opacity": 0}, "view": {"stroke": null}},
        {"width": 95, "height": 145, "data": {"values": [{"label": "(b) Coin cell-1"}]}, "mark": {"type": "text", "font": "Liberation Serif", "fontSize": 50, "fontWeight": "bold", "color": "#111", "dx": -38, "dy": 15}, "encoding": {"text": {"field": "label", "type": "nominal"}}, "view": {"stroke": null}},
        {"width": 566, "height": 145, "data": {"name": "blank"}, "mark": {"type": "point", "opacity": 0}, "view": {"stroke": null}},
        {"width": 18, "height": 145, "data": {"name": "blank"}, "mark": {"type": "point", "opacity": 0}, "view": {"stroke": null}},
        {"width": 4, "height": 145, "data": {"name": "blank"}, "mark": {"type": "point", "opacity": 0}, "view": {"fill": "#23407a", "stroke": null}},

        {"width": 4, "height": 4, "data": {"name": "blank"}, "mark": {"type": "point", "opacity": 0}, "view": {"fill": "#23407a", "stroke": null}},
        {"width": 91, "height": 4, "data": {"name": "blank"}, "mark": {"type": "point", "opacity": 0}, "view": {"fill": "#23407a", "stroke": null}},
        {"width": 555, "height": 4, "data": {"name": "blank"}, "mark": {"type": "point", "opacity": 0}, "view": {"fill": "#23407a", "stroke": null}},
        {"width": 95, "height": 4, "data": {"name": "blank"}, "mark": {"type": "point", "opacity": 0}, "view": {"fill": "#23407a", "stroke": null}},
        {"width": 566, "height": 4, "data": {"name": "blank"}, "mark": {"type": "point", "opacity": 0}, "view": {"fill": "#23407a", "stroke": null}},
        {"width": 18, "height": 4, "data": {"name": "blank"}, "mark": {"type": "point", "opacity": 0}, "view": {"fill": "#23407a", "stroke": null}},
        {"width": 4, "height": 4, "data": {"name": "blank"}, "mark": {"type": "point", "opacity": 0}, "view": {"fill": "#23407a", "stroke": null}}
      ]
    },
    {"width": 26, "height": 10, "data": {"name": "blank"}, "mark": {"type": "point", "opacity": 0}, "view": {"stroke": null}},
    {
      "columns": 7, "spacing": 0, "bounds": "flush", "align": "each",
      "resolve": {"scale": {"color": "independent"}, "legend": {"color": "independent"}},
      "concat": [
        {"width": 5, "height": 5, "data": {"name": "blank"}, "mark": {"type": "point", "opacity": 0}, "view": {"fill": "#2d8ad6", "stroke": null}},
        {"width": 112, "height": 5, "data": {"name": "blank"}, "mark": {"type": "point", "opacity": 0}, "view": {"fill": "#2d8ad6", "stroke": null}},
        {"width": 544, "height": 5, "data": {"name": "blank"}, "mark": {"type": "point", "opacity": 0}, "view": {"fill": "#2d8ad6", "stroke": null}},
        {"width": 92, "height": 5, "data": {"name": "blank"}, "mark": {"type": "point", "opacity": 0}, "view": {"fill": "#2d8ad6", "stroke": null}},
        {"width": 558, "height": 5, "data": {"name": "blank"}, "mark": {"type": "point", "opacity": 0}, "view": {"fill": "#2d8ad6", "stroke": null}},
        {"width": 14, "height": 5, "data": {"name": "blank"}, "mark": {"type": "point", "opacity": 0}, "view": {"fill": "#2d8ad6", "stroke": null}},
        {"width": 5, "height": 5, "data": {"name": "blank"}, "mark": {"type": "point", "opacity": 0}, "view": {"fill": "#2d8ad6", "stroke": null}},

        {"width": 5, "height": 11, "data": {"name": "blank"}, "mark": {"type": "point", "opacity": 0}, "view": {"fill": "#2d8ad6", "stroke": null}},
        {"width": 112, "height": 11, "data": {"name": "blank"}, "mark": {"type": "point", "opacity": 0}, "view": {"stroke": null}},
        {"width": 544, "height": 11, "data": {"name": "blank"}, "mark": {"type": "point", "opacity": 0}, "view": {"stroke": null}},
        {"width": 92, "height": 11, "data": {"name": "blank"}, "mark": {"type": "point", "opacity": 0}, "view": {"stroke": null}},
        {"width": 558, "height": 11, "data": {"name": "blank"}, "mark": {"type": "point", "opacity": 0}, "view": {"stroke": null}},
        {"width": 14, "height": 11, "data": {"name": "blank"}, "mark": {"type": "point", "opacity": 0}, "view": {"stroke": null}},
        {"width": 5, "height": 11, "data": {"name": "blank"}, "mark": {"type": "point", "opacity": 0}, "view": {"fill": "#2d8ad6", "stroke": null}},

        {"width": 5, "height": 429, "data": {"name": "blank"}, "mark": {"type": "point", "opacity": 0}, "view": {"fill": "#2d8ad6", "stroke": null}},
        {"width": 112, "height": 10, "data": {"name": "blank"}, "mark": {"type": "point", "opacity": 0}, "view": {"stroke": null}},
        {
          "width": 535, "height": 426,
          "encoding": {
            "x": {"field": "cycle", "type": "quantitative", "title": "Battery Cycles", "scale": {"domain": [-51.7, 400], "nice": false, "zero": false}, "axis": {"values": [-50, 0, 50, 100, 150, 200, 250, 300, 350, 400], "format": "d"}},
            "y": {"field": "value", "type": "quantitative", "title": "FWHMi", "scale": {"type": "log", "domain": [0.001, 0.01, 0.1, 0.5, 1, 2, 5, 10, 20], "range": [426, 356.7, 278.2, 214.6, 184.3, 149.9, 98.8, 53.65, 0], "nice": false}, "axis": {"values": [0.001, 0.01, 0.1, 0.5, 1, 2, 5, 10, 20], "labelExpr": "datum.value < 0.0005 ? '1E-' + round(-log(datum.value) / LN10) : format(datum.value, '~g')"}}
          },
          "layer": [
            {"data": {"name": "b1"}, "mark": {"type": "line", "strokeWidth": 3}, "encoding": {"color": {"field": "series", "type": "nominal", "scale": {"domain": ["G1(tau)", "G2(tau)", "G3(tau)", "G4(tau)"], "range": ["#111111", "#ff1a1a", "#19e619", "#1a1aff"]}, "legend": {"title": null, "orient": "none", "legendX": 11, "legendY": 70, "rowPadding": 5, "symbolType": "stroke"}}}},
            {"data": {"name": "b1"}, "mark": {"type": "point", "shape": "diamond", "filled": false, "size": 45, "strokeWidth": 1.8, "opacity": 1}, "encoding": {"color": {"field": "series", "type": "nominal"}}},
            {"data": {"name": "b1_txt"}, "mark": {"type": "text", "font": "Liberation Serif", "fontSize": 29, "fontWeight": "bold", "color": "#111"}, "encoding": {"text": {"field": "label", "type": "nominal"}}},
            {"data": {"name": "b1_arr"}, "mark": {"type": "rule", "strokeWidth": 3, "color": "#111"}, "encoding": {"x2": {"field": "cycle0"}, "y2": {"field": "value0"}}},
            {"data": {"name": "b1_arr"}, "mark": {"type": "point", "shape": "triangle", "filled": true, "size": 200, "color": "#111", "opacity": 1}, "encoding": {"angle": {"field": "heading", "type": "quantitative", "scale": null}}},
            {"data": {"values": [{"cycle": 340, "value": 9.45}]}, "mark": {"type": "point", "shape": "M0,-1C0.33,-1,0.6,-0.55,0.6,0C0.6,0.55,0.33,1,0,1C-0.33,1,-0.6,0.55,-0.6,0C-0.6,-0.55,-0.33,-1,0,-1Z", "size": 8100, "angle": 0, "filled": false, "strokeWidth": 2.5, "color": "#111", "opacity": 1}}
          ]
        },
        {"width": 92, "height": 10, "data": {"name": "blank"}, "mark": {"type": "point", "opacity": 0}, "view": {"stroke": null}},
        {
          "width": 546, "height": 429,
          "encoding": {
            "x": {"field": "cycle", "type": "quantitative", "title": "Battery Cycles", "scale": {"domain": [-50, 400], "nice": false, "zero": false}, "axis": {"values": [-50, 0, 50, 100, 150, 200, 250, 300, 350, 400], "format": "d"}},
            "y": {"field": "value", "type": "quantitative", "title": "Center Relaxation time(tau)", "scale": {"type": "log", "domain": [0.001, 0.01, 0.1, 0.5, 1, 2, 5, 10, 20, 30], "range": [429, 365.5, 294.1, 234.9, 207.2, 175.7, 128.4, 86.9, 37, 0], "nice": false}, "axis": {"values": [0.001, 0.01, 0.1, 0.5, 1, 2, 5, 10, 20, 30], "labelExpr": "datum.value < 0.0005 ? '1E-' + round(-log(datum.value) / LN10) : format(datum.value, '~g')"}}
          },
          "layer": [
            {"data": {"name": "b2"}, "mark": {"type": "line", "strokeWidth": 3}, "encoding": {"color": {"field": "series", "type": "nominal", "scale": {"domain": ["G1(tau)", "G2(tau)", "G3(tau)", "G4(tau)"], "range": ["#111111", "#ff1a1a", "#19e619", "#1a1aff"]}, "legend": {"title": null, "orient": "none", "legendX": 9, "legendY": 168, "rowPadding": 5, "symbolType": "stroke"}}}},
            {"data": {"name": "b2"}, "mark": {"type": "point", "shape": "diamond", "filled": false, "size": 45, "strokeWidth": 1.8, "opacity": 1}, "encoding": {"color": {"field": "series", "type": "nominal"}}},
            {"data": {"name": "b2_txt"}, "mark": {"type": "text", "font": "Liberation Serif", "fontSize": 29, "fontWeight": "bold", "color": "#111"}, "encoding": {"text": {"field": "label", "type": "nominal"}}},
            {"data": {"name": "b2_arr"}, "mark": {"type": "rule", "strokeWidth": 3, "color": "#111"}, "encoding": {"x2": {"field": "cycle0"}, "y2": {"field": "value0"}}},
            {"data": {"name": "b2_arr"}, "mark": {"type": "point", "shape": "triangle", "filled": true, "size": 200, "color": "#111", "opacity": 1}, "encoding": {"angle": {"field": "heading", "type": "quantitative", "scale": null}}},
            {"data": {"values": [{"cycle": 334, "value": 11.4}]}, "mark": {"type": "point", "shape": "M0,-1C0.33,-1,0.6,-0.55,0.6,0C0.6,0.55,0.33,1,0,1C-0.33,1,-0.6,0.55,-0.6,0C-0.6,-0.55,-0.33,-1,0,-1Z", "size": 9216, "angle": 0, "filled": false, "strokeWidth": 2.5, "color": "#111", "opacity": 1}}
          ]
        },
        {"width": 14, "height": 10, "data": {"name": "blank"}, "mark": {"type": "point", "opacity": 0}, "view": {"stroke": null}},
        {"width": 5, "height": 429, "data": {"name": "blank"}, "mark": {"type": "point", "opacity": 0}, "view": {"fill": "#2d8ad6", "stroke": null}},

        {"width": 5, "height": 72, "data": {"name": "blank"}, "mark": {"type": "point", "opacity": 0}, "view": {"fill": "#2d8ad6", "stroke": null}},
        {"width": 112, "height": 72, "data": {"name": "blank"}, "mark": {"type": "point", "opacity": 0}, "view": {"stroke": null}},
        {"width": 544, "height": 72, "data": {"name": "blank"}, "mark": {"type": "point", "opacity": 0}, "view": {"stroke": null}},
        {"width": 92, "height": 72, "data": {"name": "blank"}, "mark": {"type": "point", "opacity": 0}, "view": {"stroke": null}},
        {"width": 558, "height": 72, "data": {"name": "blank"}, "mark": {"type": "point", "opacity": 0}, "view": {"stroke": null}},
        {"width": 14, "height": 72, "data": {"name": "blank"}, "mark": {"type": "point", "opacity": 0}, "view": {"stroke": null}},
        {"width": 5, "height": 72, "data": {"name": "blank"}, "mark": {"type": "point", "opacity": 0}, "view": {"fill": "#2d8ad6", "stroke": null}},

        {"width": 5, "height": 444, "data": {"name": "blank"}, "mark": {"type": "point", "opacity": 0}, "view": {"fill": "#2d8ad6", "stroke": null}},
        {"width": 112, "height": 10, "data": {"name": "blank"}, "mark": {"type": "point", "opacity": 0}, "view": {"stroke": null}},
        {
          "width": 544, "height": 436,
          "encoding": {
            "x": {"field": "cycle", "type": "quantitative", "title": "Battery Cycles", "scale": {"domain": [-50, 400], "nice": false, "zero": false}, "axis": {"values": [-50, 0, 50, 100, 150, 200, 250, 300, 350, 400], "format": "d"}},
            "y": {"field": "value", "type": "quantitative", "title": "Peak Height(hi)", "scale": {"domain": [0.015, 1.6], "nice": false, "zero": false}, "axis": {"values": [0.2, 0.4, 0.6, 0.8, 1.0, 1.2, 1.4, 1.6], "format": ".1f"}}
          },
          "layer": [
            {"data": {"name": "b3"}, "mark": {"type": "line", "strokeWidth": 3}, "encoding": {"color": {"field": "series", "type": "nominal", "scale": {"domain": ["G1(tau)", "G2(tau)", "G3(tau)", "G4(tau)"], "range": ["#111111", "#ff1a1a", "#19e619", "#1a1aff"]}, "legend": {"title": null, "orient": "none", "legendX": 5, "legendY": 8, "rowPadding": 4, "symbolType": "stroke"}}}},
            {"data": {"name": "b3"}, "mark": {"type": "point", "shape": "diamond", "filled": false, "size": 45, "strokeWidth": 1.8, "opacity": 1}, "encoding": {"color": {"field": "series", "type": "nominal"}}},
            {"data": {"name": "b3_txt"}, "mark": {"type": "text", "font": "Liberation Serif", "fontSize": 29, "fontWeight": "bold", "color": "#111"}, "encoding": {"text": {"field": "label", "type": "nominal"}}},
            {"data": {"name": "b3_arr"}, "mark": {"type": "rule", "strokeWidth": 3, "color": "#111"}, "encoding": {"x2": {"field": "cycle0"}, "y2": {"field": "value0"}}},
            {"data": {"name": "b3_arr"}, "mark": {"type": "point", "shape": "triangle", "filled": true, "size": 200, "color": "#111", "opacity": 1}, "encoding": {"angle": {"field": "heading", "type": "quantitative", "scale": null}}},
            {"data": {"values": [{"cycle": 225, "value": 0.921}]}, "mark": {"type": "point", "shape": "M0,-1C0.18,-1,0.33,-0.55,0.33,0C0.33,0.55,0.18,1,0,1C-0.18,1,-0.33,0.55,-0.33,0C-0.33,-0.55,-0.18,-1,0,-1Z", "size": 24336, "angle": 30, "filled": false, "strokeWidth": 2.5, "color": "#111", "opacity": 1}}
          ]
        },
        {"width": 92, "height": 10, "data": {"name": "blank"}, "mark": {"type": "point", "opacity": 0}, "view": {"stroke": null}},
        {
          "width": 558, "height": 444,
          "encoding": {
            "x": {"field": "cycle", "type": "quantitative", "title": "Battery Cycles", "scale": {"domain": [-52.4, 400], "nice": false, "zero": false}, "axis": {"values": [-50, 0, 50, 100, 150, 200, 250, 300, 350, 400], "format": "d"}},
            "y": {"field": "value", "type": "quantitative", "title": "Peak Area Ai", "scale": {"type": "log", "domain": [0.0001, 0.001, 0.01, 0.1, 0.5, 1], "range": [444, 354.5, 254.7, 139.8, 46.05, 0], "nice": false}, "axis": {"values": [0.0001, 0.001, 0.01, 0.1, 0.5, 1], "labelExpr": "datum.value < 0.0005 ? '1E-' + round(-log(datum.value) / LN10) : format(datum.value, '~g')"}}
          },
          "layer": [
            {"data": {"name": "b4"}, "mark": {"type": "line", "strokeWidth": 3}, "encoding": {"color": {"field": "series", "type": "nominal", "scale": {"domain": ["G1(tau)", "G2(tau)", "G3(tau)", "G4(tau)"], "range": ["#111111", "#ff1a1a", "#19e619", "#1a1aff"]}, "legend": {"title": null, "orient": "none", "legendX": 9, "legendY": 11, "rowPadding": 6, "symbolType": "stroke"}}}},
            {"data": {"name": "b4"}, "mark": {"type": "point", "shape": "diamond", "filled": false, "size": 45, "strokeWidth": 1.8, "opacity": 1}, "encoding": {"color": {"field": "series", "type": "nominal"}}},
            {"data": {"name": "b4_txt"}, "mark": {"type": "text", "font": "Liberation Serif", "fontSize": 29, "fontWeight": "bold", "color": "#111"}, "encoding": {"text": {"field": "label", "type": "nominal"}}},
            {"data": {"name": "b4_arr"}, "mark": {"type": "rule", "strokeWidth": 3, "color": "#111"}, "encoding": {"x2": {"field": "cycle0"}, "y2": {"field": "value0"}}},
            {"data": {"name": "b4_arr"}, "mark": {"type": "point", "shape": "triangle", "filled": true, "size": 200, "color": "#111", "opacity": 1}, "encoding": {"angle": {"field": "heading", "type": "quantitative", "scale": null}}},
            {"data": {"values": [{"cycle": 276, "value": 0.336}]}, "mark": {"type": "point", "shape": "M0,-1C0.25,-1,0.45,-0.55,0.45,0C0.45,0.55,0.25,1,0,1C-0.25,1,-0.45,0.55,-0.45,0C-0.45,-0.55,-0.25,-1,0,-1Z", "size": 13456, "angle": 90, "filled": false, "strokeWidth": 2.5, "color": "#111", "opacity": 1}}
          ]
        },
        {"width": 14, "height": 10, "data": {"name": "blank"}, "mark": {"type": "point", "opacity": 0}, "view": {"stroke": null}},
        {"width": 5, "height": 444, "data": {"name": "blank"}, "mark": {"type": "point", "opacity": 0}, "view": {"fill": "#2d8ad6", "stroke": null}},

        {"width": 5, "height": 142, "data": {"name": "blank"}, "mark": {"type": "point", "opacity": 0}, "view": {"fill": "#2d8ad6", "stroke": null}},
        {"width": 112, "height": 142, "data": {"name": "blank"}, "mark": {"type": "point", "opacity": 0}, "view": {"stroke": null}},
        {"width": 544, "height": 142, "data": {"name": "blank"}, "mark": {"type": "point", "opacity": 0}, "view": {"stroke": null}},
        {"width": 92, "height": 142, "data": {"values": [{"label": "(c) Coin cell-2"}]}, "mark": {"type": "text", "font": "Liberation Serif", "fontSize": 50, "fontWeight": "bold", "color": "#111", "dx": -33, "dy": 0}, "encoding": {"text": {"field": "label", "type": "nominal"}}, "view": {"stroke": null}},
        {"width": 558, "height": 142, "data": {"name": "blank"}, "mark": {"type": "point", "opacity": 0}, "view": {"stroke": null}},
        {"width": 14, "height": 142, "data": {"name": "blank"}, "mark": {"type": "point", "opacity": 0}, "view": {"stroke": null}},
        {"width": 5, "height": 142, "data": {"name": "blank"}, "mark": {"type": "point", "opacity": 0}, "view": {"fill": "#2d8ad6", "stroke": null}},

        {"width": 5, "height": 5, "data": {"name": "blank"}, "mark": {"type": "point", "opacity": 0}, "view": {"fill": "#2d8ad6", "stroke": null}},
        {"width": 112, "height": 5, "data": {"name": "blank"}, "mark": {"type": "point", "opacity": 0}, "view": {"fill": "#2d8ad6", "stroke": null}},
        {"width": 544, "height": 5, "data": {"name": "blank"}, "mark": {"type": "point", "opacity": 0}, "view": {"fill": "#2d8ad6", "stroke": null}},
        {"width": 92, "height": 5, "data": {"name": "blank"}, "mark": {"type": "point", "opacity": 0}, "view": {"fill": "#2d8ad6", "stroke": null}},
        {"width": 558, "height": 5, "data": {"name": "blank"}, "mark": {"type": "point", "opacity": 0}, "view": {"fill": "#2d8ad6", "stroke": null}},
        {"width": 14, "height": 5, "data": {"name": "blank"}, "mark": {"type": "point", "opacity": 0}, "view": {"fill": "#2d8ad6", "stroke": null}},
        {"width": 5, "height": 5, "data": {"name": "blank"}, "mark": {"type": "point", "opacity": 0}, "view": {"fill": "#2d8ad6", "stroke": null}}
      ]
    }
  ]
}
